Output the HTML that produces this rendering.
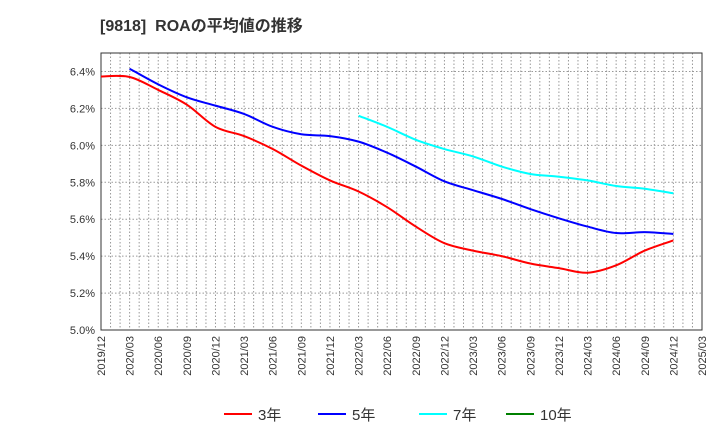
<!DOCTYPE html>
<html><head><meta charset="utf-8"><style>
body{margin:0;background:#fff;width:720px;height:440px;overflow:hidden;font-family:"Liberation Sans","Noto Sans CJK JP",sans-serif}
</style></head><body>
<svg id="chart" width="720" height="440" xmlns="http://www.w3.org/2000/svg" font-family="Liberation Sans, Noto Sans CJK JP, sans-serif">
<text x="100" y="31" font-size="16" font-weight="bold" fill="#333" style="white-space:pre">[9818]  ROAの平均値の推移</text>
<g id="grid"></g><g id="axes"></g><g id="series"></g><g id="legend"></g>
</svg>
<script>
const xLabels=["2019/12","2020/03","2020/06","2020/09","2020/12","2021/03","2021/06","2021/09","2021/12","2022/03","2022/06","2022/09","2022/12","2023/03","2023/06","2023/09","2023/12","2024/03","2024/06","2024/09","2024/12","2025/03"];
const yTicks=[5.0,5.2,5.4,5.6,5.8,6.0,6.2,6.4];
const s3=[6.373,6.37,6.30,6.22,6.10,6.05,5.98,5.89,5.81,5.75,5.665,5.56,5.47,5.43,5.40,5.36,5.335,5.31,5.35,5.43,5.485];
const s5=[null,6.415,6.33,6.26,6.215,6.17,6.10,6.06,6.05,6.02,5.96,5.885,5.805,5.757,5.71,5.655,5.605,5.56,5.525,5.53,5.52];
const s7=[null,null,null,null,null,null,null,null,null,6.16,6.10,6.03,5.98,5.94,5.885,5.845,5.83,5.81,5.78,5.765,5.74];
const s10=[];
const NS="http://www.w3.org/2000/svg";
const L=101,R=702,T=53,B=330,yMin=5.0,yMax=6.5;
const xq=i=>L+(R-L)*i/(xLabels.length-1);
const xm=m=>L+(R-L)*m/((xLabels.length-1)*3);
const y=v=>B-(v-yMin)/(yMax-yMin)*(B-T);
function mk(tag,attrs,parent){const e=document.createElementNS(NS,tag);for(const k in attrs)e.setAttribute(k,attrs[k]);parent.appendChild(e);return e;}
const grid=document.getElementById('grid'),axes=document.getElementById('axes'),ser=document.getElementById('series'),leg=document.getElementById('legend');
for(let m=1;m<(xLabels.length-1)*3;m++){const l=mk('line',{x1:xm(m),x2:xm(m),y1:T,y2:B,stroke:'#999','stroke-dasharray':'1.5,2','stroke-width':1},grid);

}
yTicks.forEach(v=>{if(v>yMin){const l=mk('line',{x1:L,x2:R,y1:y(v),y2:y(v),stroke:'#999','stroke-dasharray':'1.5,2'},grid);

}
const t=mk('text',{x:L-6,y:y(v)+4,'text-anchor':'end','font-size':11,fill:'#333'},axes);t.textContent=v.toFixed(1)+'%';

});
const fr=mk('rect',{x:L,y:T,width:R-L,height:B-T,fill:'none',stroke:'#333','stroke-width':1},axes);


xLabels.forEach((s,i)=>{const t=mk('text',{transform:`translate(${xq(i)+4},${B+6}) rotate(-90)`,'text-anchor':'end','font-size':11,fill:'#333'},axes);t.textContent=s;

});
function path(arr){const p=[];arr.forEach((v,i)=>{if(v!=null)p.push([xq(i),y(v)]);});if(p.length<2)return '';
let d=`M${p[0][0]},${p[0][1]}`;for(let i=0;i<p.length-1;i++){const p0=p[i-1]||p[i],p1=p[i],p2=p[i+1],p3=p[i+2]||p2;
d+=` C${p1[0]+(p2[0]-p0[0])/6},${p1[1]+(p2[1]-p0[1])/6} ${p2[0]-(p3[0]-p1[0])/6},${p2[1]-(p3[1]-p1[1])/6} ${p2[0]},${p2[1]}`;}return d;}
[[s3,'#ff0000','series-3yr'],[s5,'#0000ff','series-5yr'],[s7,'#00ffff','series-7yr'],[s10,'#008000','series-10yr']].forEach(([a,c,n])=>{const d=path(a);if(!d)return;
const e=mk('path',{d:d,fill:'none',stroke:c,'stroke-width':2},ser);

});
[[224,'#ff0000','3年'],[318,'#0000ff','5年'],[419,'#00ffff','7年'],[506,'#008000','10年']].forEach(([x,c,t])=>{
const g=mk('g',{},leg);


mk('line',{x1:x,x2:x+28,y1:414,y2:414,stroke:c,'stroke-width':2},g);
const tx=mk('text',{x:x+34,y:420,'font-size':15,fill:'#333'},g);tx.textContent=t;});
</script>
</body></html>
